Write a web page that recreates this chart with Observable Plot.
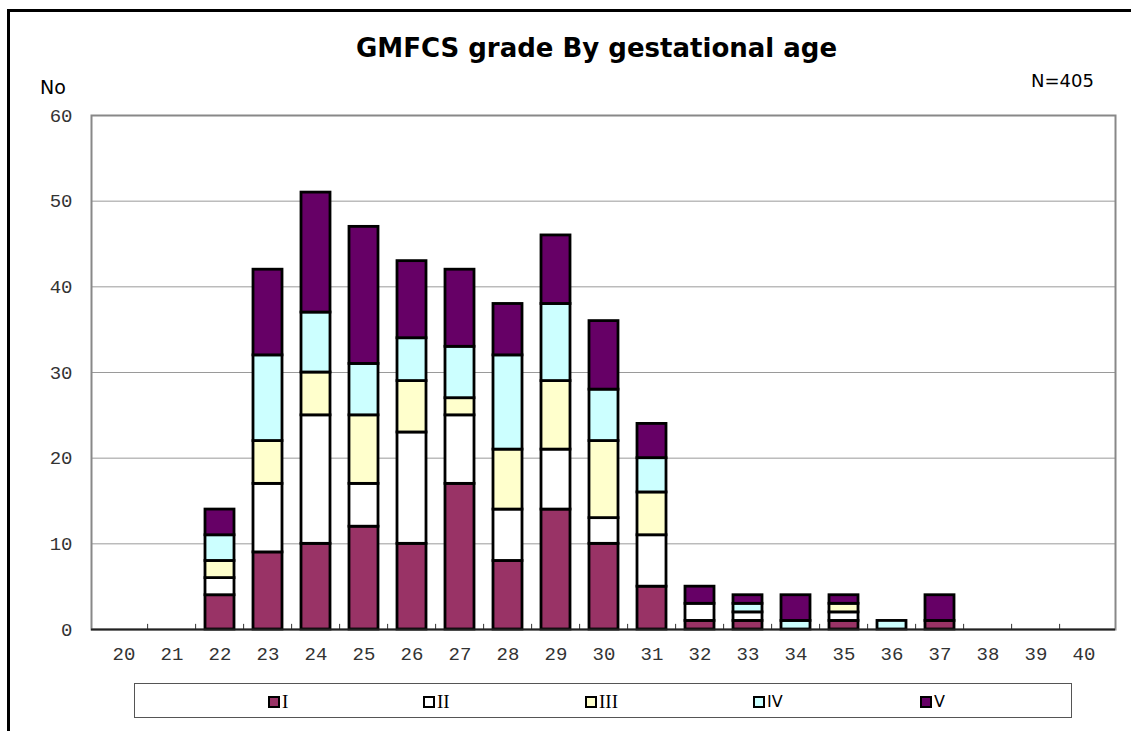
<!DOCTYPE html>
<html>
<head>
<meta charset="utf-8">
<script src="https://cdn.jsdelivr.net/npm/d3@7"></script>
<script src="https://cdn.jsdelivr.net/npm/@observablehq/plot@0.6"></script>
<style>
  html, body { margin: 0; padding: 0; background: #fff; }
  #wrap { position: relative; width: 1131px; height: 731px; overflow: hidden; }
  #frame { position: absolute; left: 7px; top: 9px; width: 1140px; height: 740px; border-left: 3px solid #000; border-top: 3px solid #000; }
  #title { position: absolute; left: 0; width: 1193px; top: 33px; text-align: center; font: bold 26px Tahoma, "DejaVu Sans", sans-serif; color: #000; }
  #ylab { position: absolute; left: 40px; top: 76px; font: 19px Tahoma, "DejaVu Sans", sans-serif; }
  #nlab { position: absolute; left: 1031px; top: 70px; font: 18px Tahoma, "DejaVu Sans", sans-serif; }
  #chart { position: absolute; left: 0; top: 0; }
  #legend { position: absolute; left: 134px; top: 683px; width: 938px; height: 35px; border: 1px solid #555; box-sizing: border-box; }
  .item { position: absolute; top: 11px; display: flex; align-items: center; font-size: 18px; line-height: 14px; }
  .sw { width: 8px; height: 8px; border: 2px solid #000; margin-right: 2px; }
</style>
</head>
<body>
<div id="wrap">
  <div id="frame"></div>
  <div id="chart"></div>
  <div id="title">GMFCS grade By gestational age</div>
  <div id="ylab">No</div>
  <div id="nlab">N=405</div>
  <div id="legend"></div>
</div>
<script>
const ages = [20,21,22,23,24,25,26,27,28,29,30,31,32,33,34,35,36,37,38,39,40];
const grades = ["I","II","III","IV","V"];
const colors = ["#993366","#FFFFFF","#FFFFCC","#CCFFFF","#660066"];
const gradeI   = [0,0,4, 9,10,12,10,17, 8,14,10,5,1,1,0,1,0,1,0,0,0];
const gradeII  = [0,0,2, 8,15, 5,13, 8, 6, 7, 3,6,2,1,0,1,0,0,0,0,0];
const gradeIII = [0,0,2, 5, 5, 8, 6, 2, 7, 8, 9,5,0,0,0,1,0,0,0,0,0];
const gradeIV  = [0,0,3,10, 7, 6, 5, 6,11, 9, 6,4,0,1,1,0,1,0,0,0,0];
const gradeV   = [0,0,3,10,14,16, 9, 9, 6, 8, 8,4,2,1,3,1,0,3,0,0,0];
const yTicks = [0,10,20,30,40,50,60];

const series = [gradeI, gradeII, gradeIII, gradeIV, gradeV];
const rows = [];
grades.forEach((g, gi) => ages.forEach((a, ai) => {
  if (series[gi][ai] > 0) rows.push({age: String(a), grade: g, value: series[gi][ai]});
}));

const W = 1131, H = 665;
const mL = 91, mR = 16, mT = 115, mB = H - 629;
const step = (W - mL - mR) / ages.length;
const ageStr = ages.map(String);
const mono = '"Liberation Mono", "DejaVu Sans Mono", monospace';

const chart = Plot.plot({
  width: W, height: H,
  marginLeft: mL, marginRight: mR, marginTop: mT, marginBottom: mB,
  style: {fontFamily: mono, fontSize: "19px", color: "#000", background: "transparent"},
  x: {type: "band", domain: ageStr, paddingInner: 0.4, paddingOuter: 0.2, align: 0.5},
  y: {domain: [0, 60]},
  color: {domain: grades, range: colors},
  marks: [
    Plot.ruleY(yTicks.filter(d => d > 0 && d < 60), {stroke: "#9a9a9a", strokeWidth: 1}),
    Plot.frame({stroke: "#888", strokeWidth: 2}),
    Plot.barY(rows, Plot.stackY({x: "age", y: "value", fill: "grade", order: grades, stroke: "#000", strokeWidth: 2.8})),
    Plot.ruleX(ageStr.slice(1), {x: d => d, dx: -step / 2, y1: 0, y2: 0.6, stroke: "#333", strokeWidth: 1}),
    Plot.ruleY([0], {stroke: "#222", strokeWidth: 2}),
    Plot.axisX({tickSize: 0, tickPadding: 17, fill: "#333", fontSize: 19, fontFamily: mono, label: null}),
    Plot.axisY(yTicks, {tickSize: 0, tickPadding: 19, fill: "#333", fontSize: 19, fontFamily: mono, label: null})
  ]
});
document.getElementById("chart").appendChild(chart);

const legend = document.getElementById("legend");
const legendX = [133, 288, 450, 618, 785];
grades.forEach((g, i) => {
  const it = document.createElement("div");
  it.className = "item";
  it.style.left = legendX[i] + "px";
  const sw = document.createElement("div");
  sw.className = "sw";
  sw.style.background = colors[i];
  const lb = document.createElement("span");
  lb.textContent = g;
  lb.style.fontFamily = i < 3 ? '"Liberation Serif", serif' : '"DejaVu Sans", sans-serif';
  lb.style.fontSize = i < 3 ? "19px" : "16px";
  it.appendChild(sw); it.appendChild(lb);
  legend.appendChild(it);
});
</script>
</body>
</html>
